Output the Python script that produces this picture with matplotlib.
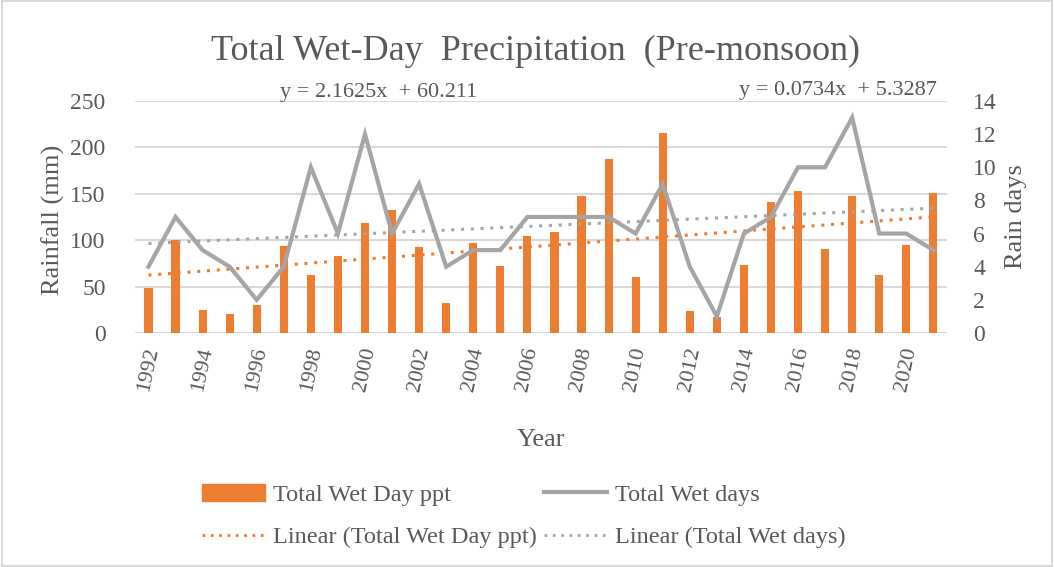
import matplotlib

matplotlib.use("Agg")
import matplotlib.pyplot as plt
from matplotlib.lines import Line2D
from matplotlib.patches import Patch, Rectangle
import numpy as np

# ---------------------------------------------------------------------------
# Data
# ---------------------------------------------------------------------------
years = list(range(1992, 2022))
wet_day_ppt = [49, 100, 25, 20, 30, 94, 63, 83, 119, 133,
               93, 32, 97, 72, 104, 109, 148, 187, 60, 215,
               24, 17, 73, 141, 153, 91, 148, 62, 95, 151]
wet_days = [4, 7, 5, 4, 2, 4, 10, 6, 12, 6,
            9, 4, 5, 5, 7, 7, 7, 7, 6, 9,
            4, 1, 6, 7, 10, 10, 13, 6, 6, 5]
# Excel trendline coefficients (x = 1..n)
ppt_slope, ppt_intercept = 2.1625, 60.211
days_slope, days_intercept = 0.0734, 5.3287

ORANGE = "#ed7d31"
GRAY = "#a5a5a5"
TEXT = "#595959"
GRID = "#d9d9d9"
FONT = "Liberation Serif"

plt.rcParams["font.family"] = FONT

fig = plt.figure(figsize=(10.54, 5.67), dpi=100)
ax = fig.add_axes([0.128, 0.4127, 0.7704, 0.4092])
ax2 = ax.twinx()

x = np.arange(len(years))
xn = x + 1

ax.bar(x, wet_day_ppt, width=0.3, color=ORANGE, zorder=2)
ax.plot(x, ppt_slope * xn + ppt_intercept, color=ORANGE, linestyle=(0, (1, 2.2)),
        linewidth=2.2, zorder=3)

ax2.plot(x, wet_days, color=GRAY, linewidth=3, zorder=3, solid_joinstyle="miter")
ax2.plot(x, days_slope * xn + days_intercept, color=GRAY, linestyle=(0, (1, 2.2)),
         linewidth=2.2, zorder=3)

ax.set_xlim(-0.5, len(years) - 0.5)
ax.set_ylim(0, 250)
ax.set_yticks(range(0, 251, 50))
ax2.set_ylim(0, 14)
ax2.set_yticks(range(0, 15, 2))

ax.yaxis.grid(True, color=GRID, linewidth=1.5, zorder=0)
ax.set_axisbelow(True)
for a in (ax, ax2):
    for s in a.spines.values():
        s.set_visible(False)
    a.tick_params(length=0, colors=TEXT, labelsize=17)
ax.tick_params(axis="y", pad=21)
ax2.tick_params(axis="y", pad=19)

ax.set_xticks(x[::2])
ax.set_xticklabels([str(y) for y in years[::2]], rotation=78, ha="center",
                   va="top", fontsize=16, color=TEXT)
ax.tick_params(axis="x", pad=9)

ax.set_xlabel("Year", fontsize=19, color=TEXT)
ax.xaxis.set_label_coords(0.5, -0.415)
ax.set_ylabel("Rainfall (mm)", fontsize=19, color=TEXT)
ax.yaxis.set_label_coords(-0.086, 0.487)
ax2.set_ylabel("Rain days", fontsize=19, color=TEXT)
ax2.yaxis.set_label_coords(1.072, 0.50)

fig.text(0.508, 0.91, "Total Wet-Day  Precipitation  (Pre-monsoon)", ha="center",
         va="center", fontsize=26, color=TEXT)
fig.text(0.359, 0.837, "y = 2.1625x  + 60.211", ha="center", va="center",
         fontsize=16, color=TEXT)
fig.text(0.795, 0.841, "y = 0.0734x  + 5.3287", ha="center", va="center",
         fontsize=16, color=TEXT)

handles = [
    Patch(color=ORANGE),
    Line2D([], [], color=GRAY, linewidth=3),
    Line2D([], [], color=ORANGE, linestyle=(0, (1, 2)), linewidth=2),
    Line2D([], [], color=GRAY, linestyle=(0, (1, 2)), linewidth=2),
]
labels = ["Total Wet Day ppt", "Total Wet days",
          "Linear (Total Wet Day ppt)", "Linear (Total Wet days)"]
order = [0, 2, 1, 3]
leg = fig.legend([handles[i] for i in order], [labels[i] for i in order],
                 loc="center", bbox_to_anchor=(0.497, 0.09), ncol=2,
                 frameon=False, fontsize=17.5, handlelength=2.6,
                 handleheight=0.7, columnspacing=0.3, labelspacing=0.85,
                 handletextpad=0.33)
for t in leg.get_texts():
    t.set_color(TEXT)

fig.patches.append(Rectangle((0.002, 0.002), 0.996, 0.996, transform=fig.transFigure,
                             fill=False, edgecolor=GRID, linewidth=1.5))

fig.savefig("out.png", dpi=100)
